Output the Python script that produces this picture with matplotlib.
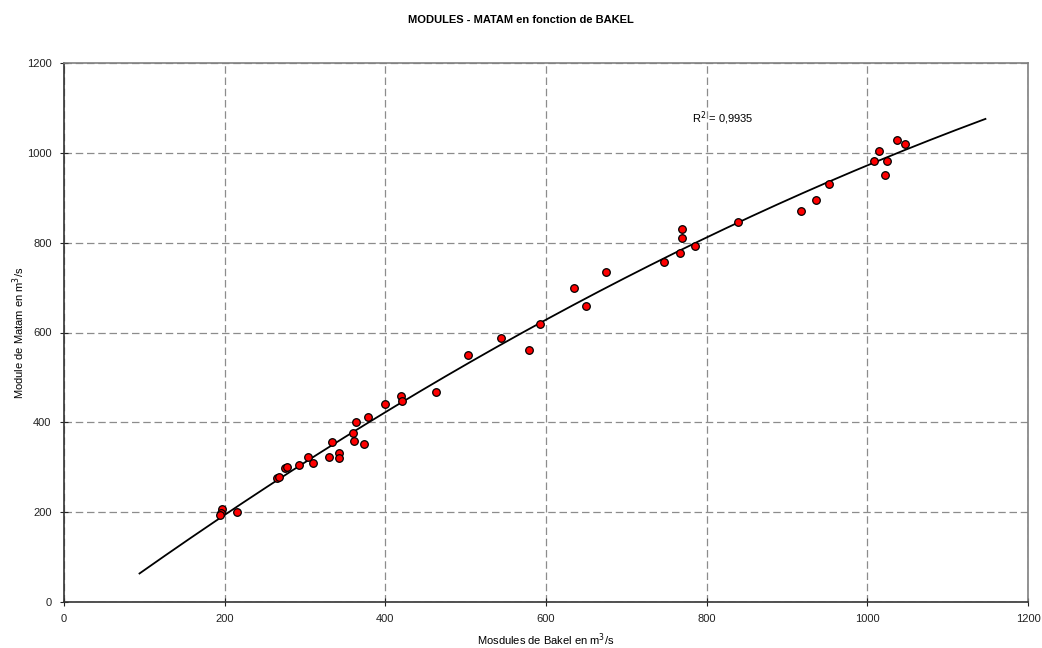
import numpy as np
import matplotlib
matplotlib.use("Agg")
import matplotlib.pyplot as plt

plt.rcParams['font.family'] = ['Liberation Sans', 'DejaVu Sans']

bakel = [197, 195, 194, 215, 265, 268, 275, 278, 292, 304, 310, 330, 333, 342, 342,
         360, 361, 364, 373, 378, 399, 419, 421, 463, 503, 544, 579, 593, 635, 650,
         675, 747, 767, 769, 769, 785, 839, 918, 936, 952, 1008, 1014, 1022, 1025,
         1037, 1047]
matam = [206, 199, 194, 201, 275, 278, 299, 300, 304, 323, 309, 323, 356, 332, 321,
         376, 359, 400, 351, 412, 440, 459, 447, 468, 550, 588, 560, 620, 700, 660,
         735, 756, 777, 810, 830, 793, 847, 870, 894, 931, 981, 1005, 951, 982,
         1028, 1020]
x_ticks = [0, 200, 400, 600, 800, 1000, 1200]
y_ticks = [0, 200, 400, 600, 800, 1000, 1200]
r2_label = "R$^2$ = 0,9935"

bx = np.array(bakel, float)
my = np.array(matam, float)
coef = np.polyfit(bx, my, 2)
xs = np.linspace(bx.min() - 100, bx.max() + 100, 200)
ys = np.polyval(coef, xs)

fig = plt.figure(figsize=(10.42, 6.48), dpi=100)
ax = fig.add_axes([64/1042, 46/648, 964/1042, 539/648])

ax.set_xlim(0, 1200)
ax.set_ylim(0, 1200)
ax.set_xticks(x_ticks)
ax.set_yticks(y_ticks)
ax.grid(True, color='#8c8c8c', linestyle=(0, (6, 3)), linewidth=0.9)
ax.set_axisbelow(True)

ax.plot(xs, ys, color='black', linewidth=1.3, zorder=2)
ax.scatter(bx, my, s=30, facecolor='#ff0000', edgecolor='black', linewidth=0.9, zorder=3)

for side in ['top', 'right']:
    ax.spines[side].set_color('#808080')
    ax.spines[side].set_linewidth(1.2)
for side in ['left', 'bottom']:
    ax.spines[side].set_color('#333333')
    ax.spines[side].set_linewidth(1.2)

ax.tick_params(direction='inout', length=6, width=0.8, labelsize=8, colors='#222222', pad=6)

ax.text(782, 1077, r2_label, fontsize=8, va='center', ha='left')

fig.text(0.5, 1 - 20/648, "MODULES - MATAM en fonction de BAKEL", ha='center', va='center',
         fontsize=8, fontweight='bold')
ax.set_xlabel("Mosdules de Bakel en m$^3$/s", fontsize=8, labelpad=5)
ax.set_ylabel("Module de Matam en m$^3$/s", fontsize=8, labelpad=0)

fig.savefig("out.png", dpi=100)
